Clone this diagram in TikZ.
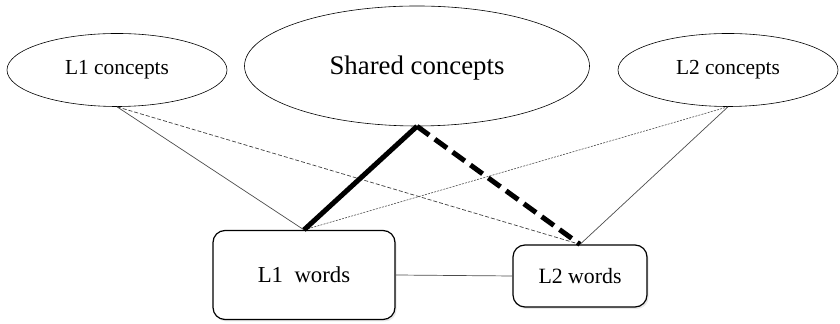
\documentclass[tikz,border=0pt]{standalone}
\usepackage{fontspec}
\setmainfont{Liberation Serif}
\usepackage{tikz}
\usetikzlibrary{shapes.geometric,shadows}

\begin{document}
\begin{tikzpicture}[x=0.5pt, y=-0.5pt, concept/.style = {ellipse, draw, line width=0.3pt, inner sep=0pt}, wordbox/.style = {rectangle, rounded corners=6pt, draw, line width=0.6pt, fill=white, inner sep=0pt, drop shadow={opacity=0.18, shadow xshift=0.8pt, shadow yshift=-1pt}}, thinlink/.style={draw=black!70, line width=0.35pt}, weaklink/.style={draw=black!75, line width=0.35pt, dash pattern=on 2pt off 1pt}, faintlink/.style={draw=black!70, line width=0.3pt, dash pattern=on 1pt off 0.6pt}, stronglink/.style={line width=2.5pt}, strongdash/.style={line width=2.5pt, dash pattern=on 7.5pt off 3.5pt}]

\useasboundingbox (0,0) rectangle (840,324);

\node[concept, minimum width=110pt, minimum height=36.5pt] (l1c) at (117,70) {\fontsize{10.7}{12}\selectfont L1 concepts};
\node[concept, minimum width=172.5pt, minimum height=60pt, text depth=0pt, text height=0pt] (shc) at (417,66) {\raisebox{-4.2pt}{\fontsize{13.4}{15}\selectfont Shared concepts}};
\node[concept, minimum width=110pt, minimum height=36.5pt] (l2c) at (728,70) {\fontsize{10.7}{12}\selectfont L2 concepts};

\node[wordbox, minimum width=91pt, minimum height=44.5pt] (l1w) at (304,275) {\fontsize{11.4}{13}\selectfont L1\ \ words};
\node[wordbox, minimum width=67pt, minimum height=31pt] (l2w) at (580,276) {\fontsize{10.9}{13}\selectfont L2 words};

\path[thinlink] (l1c.south) edge (l1w.north);
\path[weaklink] (l1c.south) edge (l2w.north);
\path[faintlink] (l2c.south) edge (l1w.north);
\path[thinlink] (l2c.south) edge (l2w.north);
\path[stronglink] (shc.south) edge (l1w.north);
\path[strongdash] (shc.south) edge (l2w.north);
\path[thinlink] (l1w.east) edge (l2w.west);
\end{tikzpicture}
\end{document}
